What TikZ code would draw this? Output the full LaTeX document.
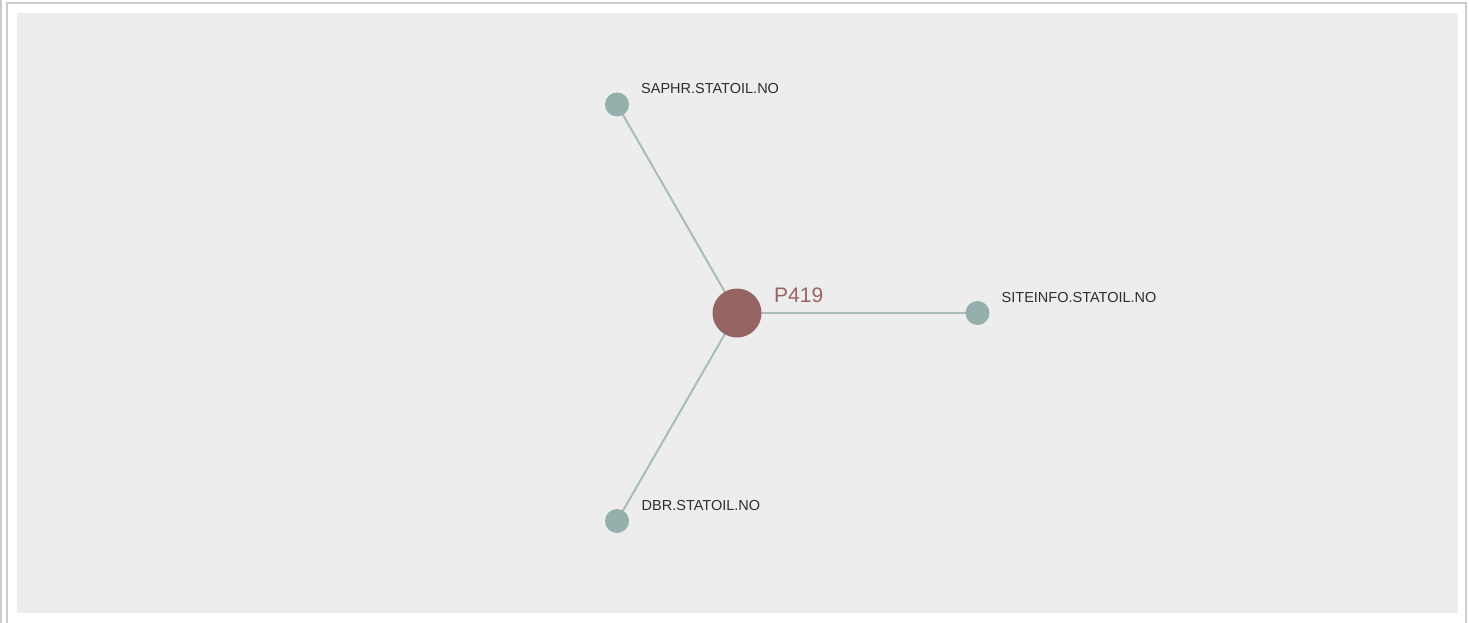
\documentclass[tikz,border=0pt]{standalone}
\usepackage{fontspec}
\setmainfont{Liberation Sans}
\usetikzlibrary{backgrounds}
\definecolor{panel}{HTML}{EDEDED}
\definecolor{frame}{HTML}{CCCCCC}
\definecolor{leaf}{HTML}{95AFAD}
\definecolor{hub}{HTML}{956563}
\definecolor{edgec}{HTML}{A9BCB9}
\definecolor{txt}{HTML}{2E2E2E}
\definecolor{hubtxt}{HTML}{9A6462}
\tikzset{
  leafnode/.style={circle, fill=leaf, draw=none, minimum size=24pt, inner sep=0pt},
  hubnode/.style={circle, fill=hub, draw=none, minimum size=49pt, inner sep=0pt},
  leaflabel/.style={anchor=base west, inner sep=0pt, text=txt, font=\fontsize{14.5}{16}\selectfont},
  hublabel/.style={anchor=base west, inner sep=0pt, text=hubtxt, font=\fontsize{21}{24}\selectfont},
  link/.style={draw=edgec, line width=2pt}
}
\begin{document}
\begin{tikzpicture}[x=1pt,y=-1pt]
\useasboundingbox (0,0) rectangle (1469,623);
\node[hubnode] (hub) at (737,313) {};
\node[leafnode] (saphr) at (617,104.5) {};
\node[leafnode] (site) at (977.5,313) {};
\node[leafnode] (dbr) at (617,521) {};
\node[hublabel] (hubl) at (774,302) {P419};
\node[leaflabel] (saphrl) at (641,94) {SAPHR.STATOIL.NO};
\node[leaflabel] (sitel) at (1001.5,302) {SITEINFO.STATOIL.NO};
\node[leaflabel] (dbrl) at (641.5,510) {DBR.STATOIL.NO};
\begin{scope}[on background layer]
\fill[white] (0,0) rectangle (1469,623);
\draw[frame, line width=1.5pt] (1,0) -- (1,623);
\draw[frame, line width=2pt] (7,623) -- (7,3) -- (1466,3) -- (1466,623);
\fill[panel] (17,13) rectangle (1458,613);
\path[link] (hub.center) -- (saphr.center);
\path[link] (hub.center) -- (site.center);
\path[link] (hub.center) -- (dbr.center);
\end{scope}
\end{tikzpicture}
\end{document}
